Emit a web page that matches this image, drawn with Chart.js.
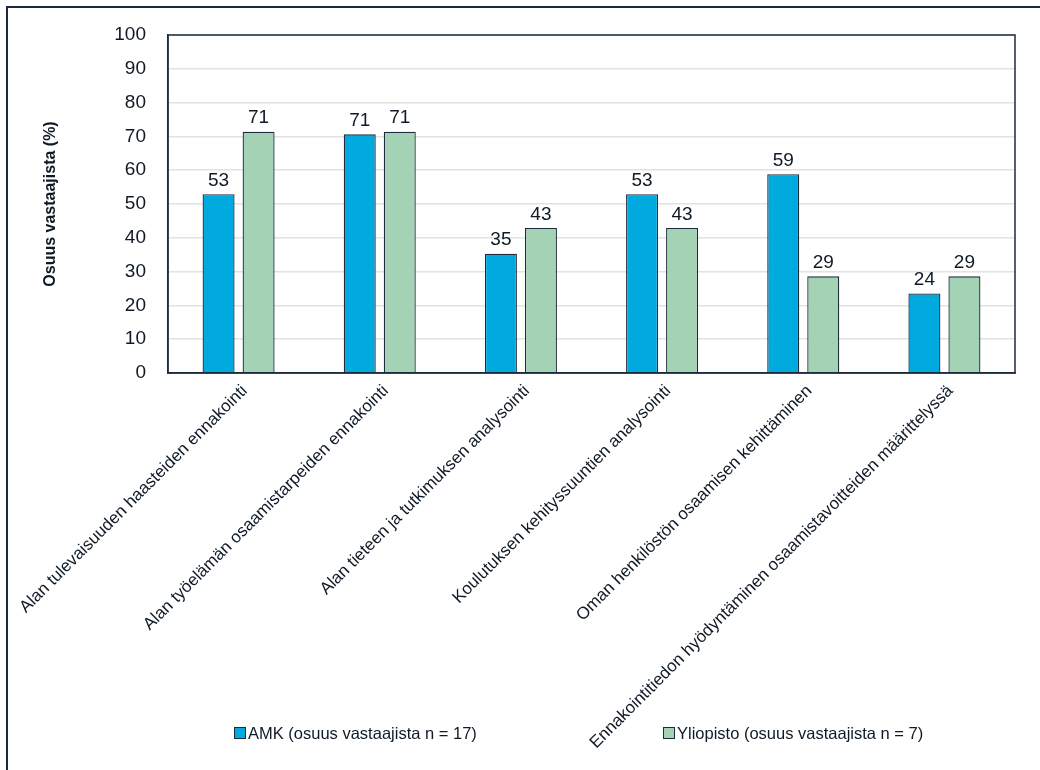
<!DOCTYPE html>
<html>
<head>
<meta charset="utf-8">
<script src="https://cdn.jsdelivr.net/npm/chart.js@4/dist/chart.umd.min.js"></script>
<style>
  body { margin: 0; background: #fff; }
</style>
</head>
<body>
<canvas id="chart" width="1040" height="770"></canvas>
<script>
// data
const categories = [
  "Alan tulevaisuuden haasteiden ennakointi",
  "Alan työelämän osaamistarpeiden ennakointi",
  "Alan tieteen ja tutkimuksen analysointi",
  "Koulutuksen kehityssuuntien analysointi",
  "Oman henkilöstön osaamisen kehittäminen",
  "Ennakointitiedon hyödyntäminen osaamistavoitteiden määrittelyssä"
];
const amkValues = [52.9, 70.6, 35.3, 52.9, 58.8, 23.5];
const yliopistoValues = [71.4, 71.4, 42.9, 42.9, 28.6, 28.6];
const seriesNames = ["AMK (osuus vastaajista n = 17)", "Yliopisto (osuus vastaajista n = 7)"];
const yMin = 0, yMax = 100, yStep = 10;

const textColor = "#0f1a26";
const edgeColor = "#1d2b3a";
const fontFamily = "'Liberation Sans', Arial, sans-serif";

// value labels above the bars
const valueLabels = {
  id: "valueLabels",
  afterDatasetsDraw(chart) {
    const ctx = chart.ctx;
    ctx.save();
    ctx.font = "19px " + fontFamily;
    ctx.fillStyle = textColor;
    ctx.textAlign = "center";
    ctx.textBaseline = "bottom";
    chart.data.datasets.forEach((ds, i) => {
      chart.getDatasetMeta(i).data.forEach((bar, j) => {
        ctx.fillText(Math.round(ds.data[j]), bar.x, bar.y - 4);
      });
    });
    ctx.restore();
  }
};

// frame: outer border (top/left) and plot box
const frame = {
  id: "frame",
  beforeDraw(chart) {
    const ctx = chart.ctx;
    ctx.save();
    ctx.strokeStyle = edgeColor;
    ctx.lineWidth = 2;
    ctx.beginPath();
    ctx.moveTo(7, 770);
    ctx.lineTo(7, 7);
    ctx.lineTo(1040, 7);
    ctx.stroke();
    ctx.restore();
  },
  afterDatasetsDraw(chart) {
    const a = chart.chartArea;
    const ctx = chart.ctx;
    ctx.save();
    ctx.strokeStyle = edgeColor;
    ctx.lineWidth = 1.5;
    ctx.strokeRect(a.left, a.top, a.right - a.left, a.bottom - a.top);
    ctx.restore();
  }
};

// legend drawn below, overlapping the long rotated label like the original
const bottomLegend = {
  id: "bottomLegend",
  afterDraw(chart) {
    const ctx = chart.ctx;
    const xs = [234, 663];
    const y = 733;
    ctx.save();
    ctx.font = "16.5px " + fontFamily;
    ctx.textBaseline = "middle";
    ctx.textAlign = "left";
    chart.data.datasets.forEach((ds, i) => {
      ctx.fillStyle = ds.backgroundColor;
      ctx.fillRect(xs[i], y - 6, 11, 11);
      ctx.strokeStyle = edgeColor;
      ctx.lineWidth = 1;
      ctx.strokeRect(xs[i] + 0.5, y - 5.5, 11, 11);
      ctx.fillStyle = textColor;
      ctx.fillText(ds.label, xs[i] + 14, y + 1);
    });
    ctx.restore();
  }
};

new Chart(document.getElementById("chart"), {
  type: "bar",
  data: {
    labels: categories,
    datasets: [
      {
        label: seriesNames[0],
        data: amkValues,
        backgroundColor: "#00aadf",
        borderColor: edgeColor,
        borderWidth: 1.3
      },
      {
        label: seriesNames[1],
        data: yliopistoValues,
        backgroundColor: "#a3d2b5",
        borderColor: edgeColor,
        borderWidth: 1.3
      }
    ]
  },
  options: {
    responsive: false,
    animation: false,
    categoryPercentage: 0.567,
    barPercentage: 0.8,
    layout: { padding: { left: 0, top: 35, right: 25, bottom: 0 } },
    plugins: {
      legend: { display: false },
      tooltip: { enabled: false }
    },
    scales: {
      x: {
        grid: { display: false, drawTicks: false },
        border: { color: edgeColor, width: 1.5 },
        ticks: {
          color: textColor,
          font: { family: fontFamily, size: 17 },
          minRotation: 45,
          maxRotation: 45,
          autoSkip: false,
          padding: 8,
          labelOffset: 6
        },
        afterFit(scale) {
          scale.height = 397;
          // long rotated labels would otherwise push the plot to the right
          scale.paddingLeft = 0;
          scale.paddingRight = 0;
        }
      },
      y: {
        min: yMin,
        max: yMax,
        grid: { color: "#e2e2e2", lineWidth: 1.5, drawTicks: false },
        border: { color: edgeColor, width: 1.5 },
        ticks: {
          stepSize: yStep,
          color: textColor,
          font: { family: fontFamily, size: 19 },
          padding: 22
        },
        title: {
          display: true,
          text: "Osuus vastaajista (%)",
          color: textColor,
          font: { family: fontFamily, size: 16, weight: "bold" },
          padding: { top: 41, bottom: 0 }
        },
        afterFit(scale) { scale.width = 168; }
      }
    }
  },
  plugins: [frame, valueLabels, bottomLegend]
});
</script>
</body>
</html>
